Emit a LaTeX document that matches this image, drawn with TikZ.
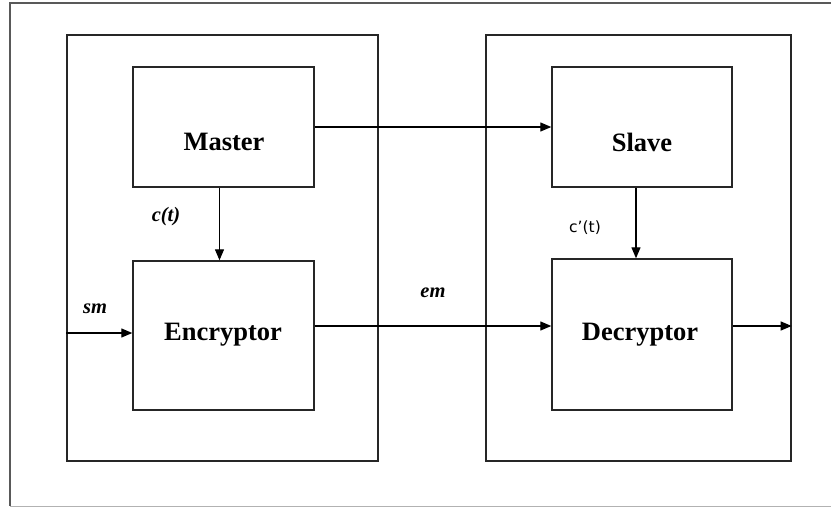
\documentclass[tikz,border=0pt]{standalone}
\usepackage{fontspec}
\setmainfont{Liberation Serif}
\newfontfamily\labelsans{DejaVu Sans}
\usetikzlibrary{arrows.meta,calc}

\tikzset{
  frameline/.style={line width=1.2pt},
  bigbox/.style={draw=black!85, line width=1.4pt, inner sep=0pt},
  blockbox/.style={draw=black!85, line width=1.4pt, inner sep=0pt,
    minimum width=181pt},
  blocklbl/.style={font=\fontsize{26.5}{30}\selectfont\bfseries, inner sep=0pt},
  siglbl/.style={font=\fontsize{20.5}{24}\selectfont\bfseries\itshape, inner sep=0pt},
  arr/.style={line width=1.2pt, -{Triangle[length=11pt,width=9pt]}},
}

\begin{document}
\begin{tikzpicture}[x=1pt, y=-1pt]
  \useasboundingbox (0,0) rectangle (831,507);

  % outer frame
  \draw[frameline, black!65] (831,3) -- (10,3) -- (10,506);
  \draw[line width=1pt, black!30] (10,506) -- (831,506);

  % the two enclosures
  \node[bigbox, minimum width=311pt, minimum height=426pt] (leftbox) at (222.5,248) {};
  \node[bigbox, minimum width=305pt, minimum height=426pt] (rightbox) at (638.5,248) {};

  % blocks
  \node[blockbox, minimum height=120pt] (master) at (223.5,127) {};
  \node[blockbox, minimum height=149pt] (encryptor) at (223.5,335.5) {};
  \node[blockbox, minimum width=180pt, minimum height=120pt] (slave) at (642,127) {};
  \node[blockbox, minimum width=180pt, minimum height=151pt] (decryptor) at (642,334.5) {};

  \node[blocklbl] (masterlbl) at (224,142) {Master};
  \node[blocklbl] (encryptorlbl) at (223,335) {Encryptor};
  \node[blocklbl] (slavelbl) at (642,142) {Slave};
  \node[blocklbl] (decryptorlbl) at (640,335) {Decryptor};

  % signal labels
  \node[siglbl] (ctlbl) at (166,217) {c(t)};
  \node[siglbl] (smlbl) at (95,309) {sm};
  \node[siglbl] (emlbl) at (433,293) {em};
  \node[font=\labelsans\fontsize{15.5}{18}\selectfont, inner sep=0pt] (cptlbl) at (585,228) {c’(t)};

  % connectors
  \coordinate (smin) at (leftbox.west |- 0,333);
  \coordinate (emout) at (encryptor.east |- 0,326);
  \coordinate (decout) at (decryptor.east |- 0,326);

  \draw[arr] (master.east) -- (slave.west);
  \draw[arr] ([xshift=-4pt]master.south) -- ([xshift=-4pt]encryptor.north);
  \draw[arr] ([xshift=-6pt]slave.south) -- ([xshift=-6pt]decryptor.north);
  \draw[arr] (smin) -- (smin -| encryptor.west);
  \draw[arr] (emout) -- (emout -| decryptor.west);
  \draw[arr] (decout) -- (decout -| rightbox.east);
\end{tikzpicture}
\end{document}
